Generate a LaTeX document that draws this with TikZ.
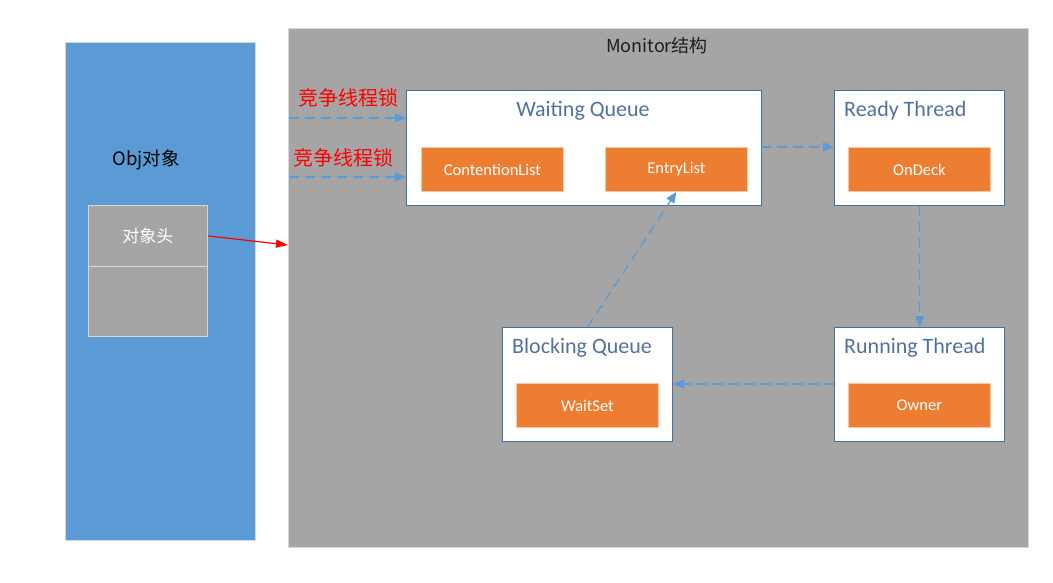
\documentclass[tikz,border=0pt]{standalone}
\usepackage{fontspec}
\setmainfont{Carlito}
\newfontfamily\cjk{Noto Sans CJK SC}
\usetikzlibrary{arrows.meta}
\definecolor{objblue}{RGB}{91,155,213}
\definecolor{mongray}{RGB}{165,165,165}
\definecolor{boxline}{RGB}{65,113,156}
\definecolor{titleblue}{RGB}{80,114,160}
\definecolor{orng}{RGB}{237,125,49}
\definecolor{dashblue}{RGB}{91,155,213}
\definecolor{lightedge}{RGB}{215,215,215}
\tikzset{
  area/.style={draw=lightedge, line width=0.8pt, inner sep=0, anchor=north west},
  queuebox/.style={draw=boxline, fill=white, line width=1.2pt, inner sep=0, anchor=north west},
  itembox/.style={draw={rgb,255:red,246;green,200;blue,170}, fill=orng, line width=0.8pt, inner sep=0,
     minimum width=142pt, minimum height=44pt, anchor=north west, text=white, font=\fontsize{16.5}{19}\selectfont},
  qtitle/.style={text=titleblue, inner sep=0, font=\fontsize{22}{25}\selectfont},
  flow/.style={draw=dashblue, line width=1.3pt, dash pattern=on 10pt off 6pt, -{Triangle[length=11pt,width=9pt]}},
  redlabel/.style={text=red, inner sep=0, font=\cjk\fontsize{20}{23}\selectfont}
}
\begin{document}
\begin{tikzpicture}[x=1pt,y=-1pt]
\fill[white] (0,0) rectangle (1053,583);
\useasboundingbox (0,0) rectangle (1053,583);
% Obj object
\node[area, fill=objblue, minimum width=190pt, minimum height=498pt] (obj) at (65,42) {};
\node[inner sep=0, font=\cjk\fontsize{18.5}{21}\selectfont] (objlbl) at (146,160) {Obj对象};
\node[area, fill=mongray, minimum width=119pt, minimum height=61pt] (hdr) at (88,205) {};
\node[area, fill=mongray, minimum width=119pt, minimum height=70pt] (hdrlow) at (88,266) {};
\node[inner sep=0, text=white, font=\cjk\fontsize{17}{20}\selectfont] (hdrlbl) at (hdr.center) {对象头};
% Monitor
\node[area, fill=mongray, minimum width=740pt, minimum height=519pt] (mon) at (288,28) {};
\node[inner sep=0, text={rgb,255:red,30;green,30;blue,30}, font=\cjk\fontsize{18}{21}\selectfont] (monlbl) at (657,46) {Monitor结构};
% Waiting queue
\node[queuebox, minimum width=355pt, minimum height=115pt] (wq) at (406,90) {};
\node[qtitle] (wqt) at (583,111) {Waiting Queue};
\node[itembox] (cl) at (421,147) {ContentionList};
\node[itembox] (el) at (605,147) {EntryList};
% Ready thread
\node[queuebox, minimum width=170pt, minimum height=115pt] (rt) at (834,90) {};
\node[qtitle, anchor=west] (rtt) at (844,111) {Ready Thread};
\node[itembox] (od) at (848,147) {OnDeck};
% Running thread
\node[queuebox, minimum width=170pt, minimum height=114pt] (run) at (834,327) {};
\node[qtitle, anchor=west] (runt) at (844,348) {Running Thread};
\node[itembox] (own) at (848,383) {Owner};
% Blocking queue
\node[queuebox, minimum width=170pt, minimum height=114pt] (bq) at (502,327) {};
\node[qtitle, anchor=west] (bqt) at (512,348) {Blocking Queue};
\node[itembox] (ws) at (516,383) {WaitSet};
% red labels
\node[redlabel] (r1) at (348,98) {竞争线程锁};
\node[redlabel] (r2) at (343,158) {竞争线程锁};
% connectors
\coordinate (in1) at (289,118);
\coordinate (in2) at (289,177);
\coordinate (wr) at (761,147);
\coordinate (rb) at (834,384);
\coordinate (hdrin) at (288,245);
\draw[flow] (in1) -- (wq.west |- in1);
\draw[flow] (in2) -- (wq.west |- in2);
\draw[flow] (wr) -- (rt.west |- wr);
\draw[flow] (rt.south) -- (run.north);
\draw[flow] (rb) -- (bq.east |- rb);
\draw[flow] (bq.north) -- (el.south);
\draw[red, line width=1.2pt, -{Triangle[length=12pt,width=8pt]}] (hdr.east) -- (hdrin);
\end{tikzpicture}
\end{document}
